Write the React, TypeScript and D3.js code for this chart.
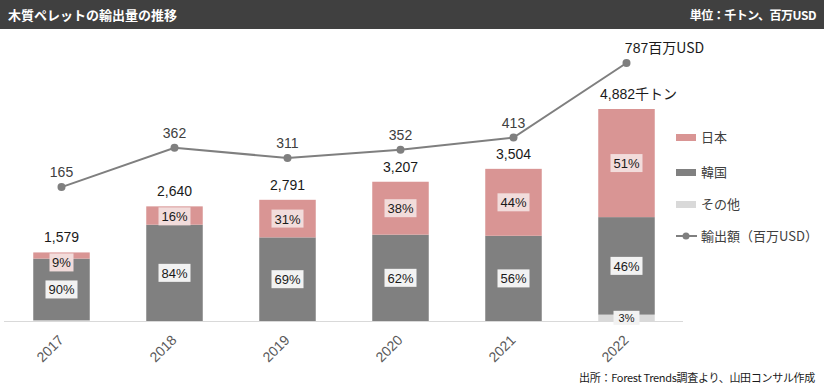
import React from "react";
import * as d3 from "d3";

// data
const years = ["2017", "2018", "2019", "2020", "2021", "2022"];
const totals = [1579, 2640, 2791, 3207, 3504, 4882]; // 千トン
const sharesJapan = [9, 16, 31, 38, 44, 51];
const sharesKorea = [90, 84, 69, 62, 56, 46];
const sharesOther = [1, 0, 0, 0, 0, 3];
const exportValue = [165, 362, 311, 352, 413, 787]; // 百万USD

const W = 824;
const H = 391;
const FONT = "'Liberation Sans', Arial, 'Noto Sans CJK JP', sans-serif";
const JP = "'Noto Sans CJK JP', 'Liberation Sans', sans-serif";

const C_JAPAN = "#d99594";
const C_KOREA = "#808080";
const C_OTHER = "#d9d9d9";
const C_LINE = "#7f7f7f";

const App = () => {
  const baseY = 321;
  const x = d3.scaleBand().domain(years).range([5, 683]).paddingInner(0.5).paddingOuter(0.25);
  const y = d3.scaleLinear().domain([0, 4882]).range([baseY, 109]);
  const yLine = d3.scaleLinear().domain([0, 787]).range([220, 63]);

  // stacked: other (bottom), korea, japan (top)
  const rows = years.map((yr, i) => ({
    year: yr,
    other: (totals[i] * sharesOther[i]) / 100,
    korea: (totals[i] * sharesKorea[i]) / 100,
    japan: (totals[i] * sharesJapan[i]) / 100,
  }));
  const keys = ["other", "korea", "japan"];
  const stack = d3.stack<any>().keys(keys)(rows);
  const colors: Record<string, string> = { other: C_OTHER, korea: C_KOREA, japan: C_JAPAN };
  const shares: Record<string, number[]> = { other: sharesOther, korea: sharesKorea, japan: sharesJapan };
  const boxFill: Record<string, string> = { other: "#f2f2f2", korea: "#f2f2f2", japan: "#f2dcdb" };

  const cx = (yr: string) => (x(yr) as number) + x.bandwidth() / 2;
  const line = d3
    .line<number>()
    .x((_, i) => cx(years[i]))
    .y((v) => yLine(v));

  return (
    <svg
      width={W}
      height={H}
      style={{ position: "absolute", left: 0, top: 0, background: "#fff" }}
      fontFamily={FONT}
    >
      {/* header */}
      <rect x={0} y={0} width={W} height={29} fill="#404040" />
      <text x={8} y={20} fill="#fff" fontSize={13} fontWeight="bold" fontFamily={JP}>
        木質ペレットの輸出量の推移
      </text>
      <text x={816} y={20} fill="#fff" fontSize={12} fontWeight="bold" fontFamily={JP} textAnchor="end" letterSpacing={-0.5}>
        単位：千トン、百万USD
      </text>

      {/* bars */}
      {stack.map((layer) => (
        <g key={layer.key}>
          {layer.map((d, i) =>
            d[1] - d[0] > 0 ? (
              <rect
                key={i}
                x={x(years[i])}
                y={y(d[1])}
                width={x.bandwidth()}
                height={y(d[0]) - y(d[1])}
                fill={colors[layer.key]}
              />
            ) : null
          )}
        </g>
      ))}

      {/* axis line */}
      <line x1={4} x2={683} y1={baseY + 0.5} y2={baseY + 0.5} stroke="#d9d9d9" strokeWidth={1} />

      {/* percentage labels */}
      {stack.map((layer) =>
        layer.map((d, i) => {
          const s = shares[layer.key][i];
          if (layer.key === "other" && s < 2) return null;
          if (s <= 0) return null;
          let cy = (y(d[0]) + y(d[1])) / 2;
          if (layer.key === "japan") cy = Math.max(cy, y(d[1]) + 10);
          const label = `${s}%`;
          const small = layer.key === "other";
          const bw = small ? 26 : label.length > 2 ? 32 : 24;
          const bh = small ? 14 : 18;
          return (
            <g key={layer.key + i}>
              <rect x={cx(years[i]) - bw / 2} y={cy - bh / 2} width={bw} height={bh} fill={boxFill[layer.key]} />
              <text
                x={cx(years[i])}
                y={cy + (small ? 4 : 5)}
                textAnchor="middle"
                fontSize={small ? 11 : 13}
                fill="#1a1a1a"
              >
                {label}
              </text>
            </g>
          );
        })
      )}

      {/* totals */}
      {totals.map((t, i) => (
        <text
          key={i}
          x={cx(years[i]) + (i === totals.length - 1 ? 12 : 0)}
          y={y(t) - 10}
          textAnchor="middle"
          fontSize={14}
          fill="#1a1a1a"
        >
          {d3.format(",")(t)}
          {i === totals.length - 1 ? <tspan fontFamily={JP}>千トン</tspan> : null}
        </text>
      ))}

      {/* export value line */}
      <path d={line(exportValue) || ""} fill="none" stroke={C_LINE} strokeWidth={2} />
      {exportValue.map((v, i) => (
        <circle key={i} cx={cx(years[i])} cy={yLine(v)} r={4} fill={C_LINE} />
      ))}
      {exportValue.map((v, i) => (
        <text
          key={i}
          x={cx(years[i]) + (i === exportValue.length - 1 ? 38 : 0)}
          y={yLine(v) - 10}
          textAnchor="middle"
          fontSize={14}
          fill={i === exportValue.length - 1 ? "#1a1a1a" : "#404040"}
        >
          {v}
          {i === exportValue.length - 1 ? <tspan fontFamily={JP}>百万USD</tspan> : null}
        </text>
      ))}

      {/* x axis labels */}
      {years.map((yr) => (
        <text
          key={yr}
          transform={`translate(${cx(yr) + 3},${baseY + 20}) rotate(-45)`}
          textAnchor="end"
          fontSize={14}
          fill="#595959"
        >
          {yr}
        </text>
      ))}

      {/* legend */}
      <g fontFamily={JP} fontSize={13} fill="#404040">
        <rect x={676} y={134} width={20} height={7} fill={C_JAPAN} />
        <text x={701} y={142}>日本</text>
        <rect x={676} y={169} width={20} height={7} fill={C_KOREA} />
        <text x={701} y={177}>韓国</text>
        <rect x={676} y={201} width={20} height={7} fill={C_OTHER} />
        <text x={701} y={209}>その他</text>
        <line x1={676} x2={697} y1={236} y2={236} stroke={C_LINE} strokeWidth={2} />
        <circle cx={686} cy={236} r={3.5} fill={C_LINE} />
        <text x={701} y={241}>輸出額（百万USD）</text>
      </g>

      {/* source */}
      <text x={815} y={382} textAnchor="end" fontSize={11} fill="#1a1a1a" fontFamily={JP} letterSpacing={-0.3}>
        出所：Forest Trends調査より、山田コンサル作成
      </text>
    </svg>
  );
};

export default App;
